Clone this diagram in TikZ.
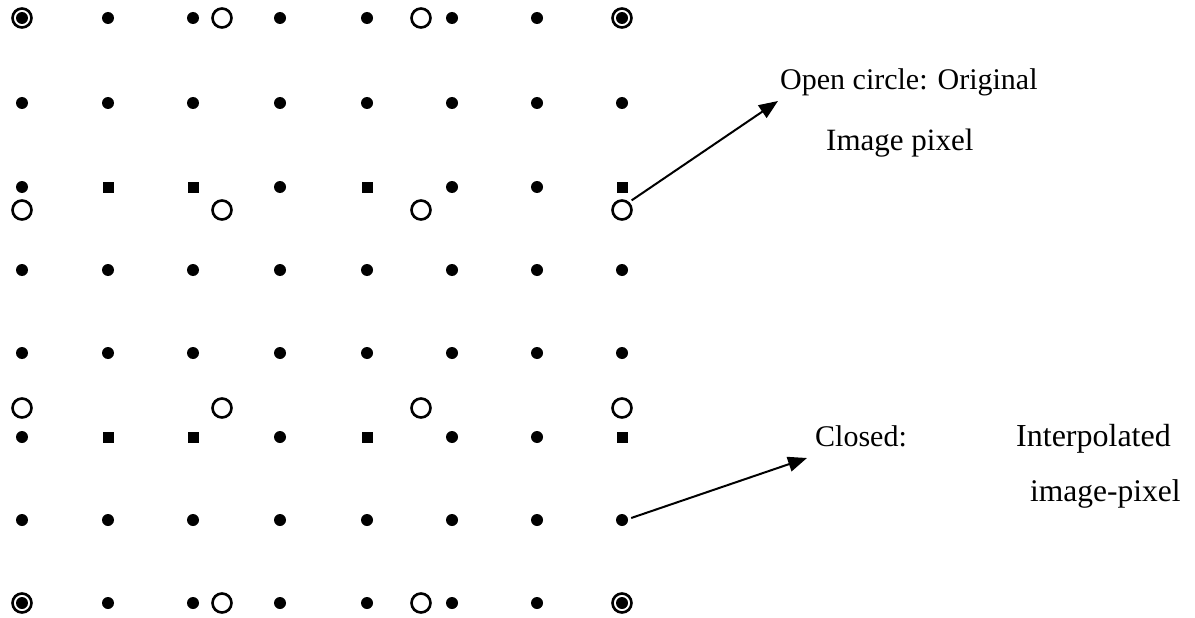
\documentclass[tikz,border=0pt]{standalone}
\usepackage{fontspec}
\setmainfont{Liberation Serif}
\usetikzlibrary{arrows.meta}
\begin{document}
\begin{tikzpicture}[x=1pt,y=-1pt,
  dotc/.style={circle,fill=black,inner sep=0pt,minimum size=12pt},
  dots/.style={rectangle,fill=black,inner sep=0pt,minimum size=11pt},
  orig/.style={circle,draw=black,line width=2.6pt,inner sep=0pt,minimum size=19pt},
  origdot/.style={circle,draw=black,line width=2.6pt,fill=white,inner sep=0pt,minimum size=19pt,
    path picture={\fill[black] (path picture bounding box.center) circle[radius=6pt];}},
  label/.style={inner sep=0pt,anchor=base west},
  arr/.style={line width=2pt,-{Triangle[length=19pt,width=15pt]}}]
\useasboundingbox (0,0) rectangle (1195,618);
% interpolated pixels: plain rows
\foreach \r/\y in {1/103,3/270,4/353,6/520}
  \foreach \c/\x in {0/22,1/108,2/193,3/280,4/367,5/452,6/537,7/622}
    \node[dotc] (d-\r-\c) at (\x,\y) {};
% top and bottom rows: interior interpolated pixels
\foreach \r/\y in {0/18,7/603}
  \foreach \c/\x in {1/108,2/193,3/280,4/367,5/452,6/537}
    \node[dotc] (d-\r-\c) at (\x,\y) {};
% rows with square markers
\foreach \r/\y in {2/187,5/437}{
  \foreach \c/\x in {0/22,3/280,5/452,6/537}
    \node[dotc] (d-\r-\c) at (\x,\y) {};
  \foreach \c/\x in {1/108,2/193,4/367,7/622}
    \node[dots] (d-\r-\c) at (\x,\y) {};
}
% corner pixels: original and interpolated coincide
\node[origdot] (o-0-0) at (22,18) {};
\node[origdot] (o-0-3) at (622,18) {};
\node[origdot] (o-3-0) at (22,603) {};
\node[origdot] (o-3-3) at (622,603) {};
% original image pixels
\node[orig] (o-0-1) at (222,18) {};
\node[orig] (o-0-2) at (421,18) {};
\node[orig] (o-3-1) at (222,603) {};
\node[orig] (o-3-2) at (421,603) {};
\foreach \r/\y in {1/210,2/408}
  \foreach \c/\x in {0/22,1/222,2/421,3/622}
    \node[orig] (o-\r-\c) at (\x,\y) {};
% legend
\node[label,font=\fontsize{30}{36}\selectfont] (t1) at (780,89) {Open circle: Original};
\node[label,font=\fontsize{31}{36}\selectfont] (t2) at (826,150) {Image pixel};
\node[label,font=\fontsize{30}{36}\selectfont] (t3) at (815,446) {Closed:};
\node[label,font=\fontsize{32}{38}\selectfont] (t4) at (1016,446) {Interpolated};
\node[label,font=\fontsize{31.5}{38}\selectfont] (t5) at (1030,501) {image-pixel};
\coordinate (a1) at (778,101);
\coordinate (a2) at (807,458);
\draw[arr] (o-1-3.north east) ++(2,-2) coordinate (s1) -- (a1);
\draw[arr] (d-6-7.east) ++(3,-2) coordinate (s2) -- (a2);
\end{tikzpicture}
\end{document}
